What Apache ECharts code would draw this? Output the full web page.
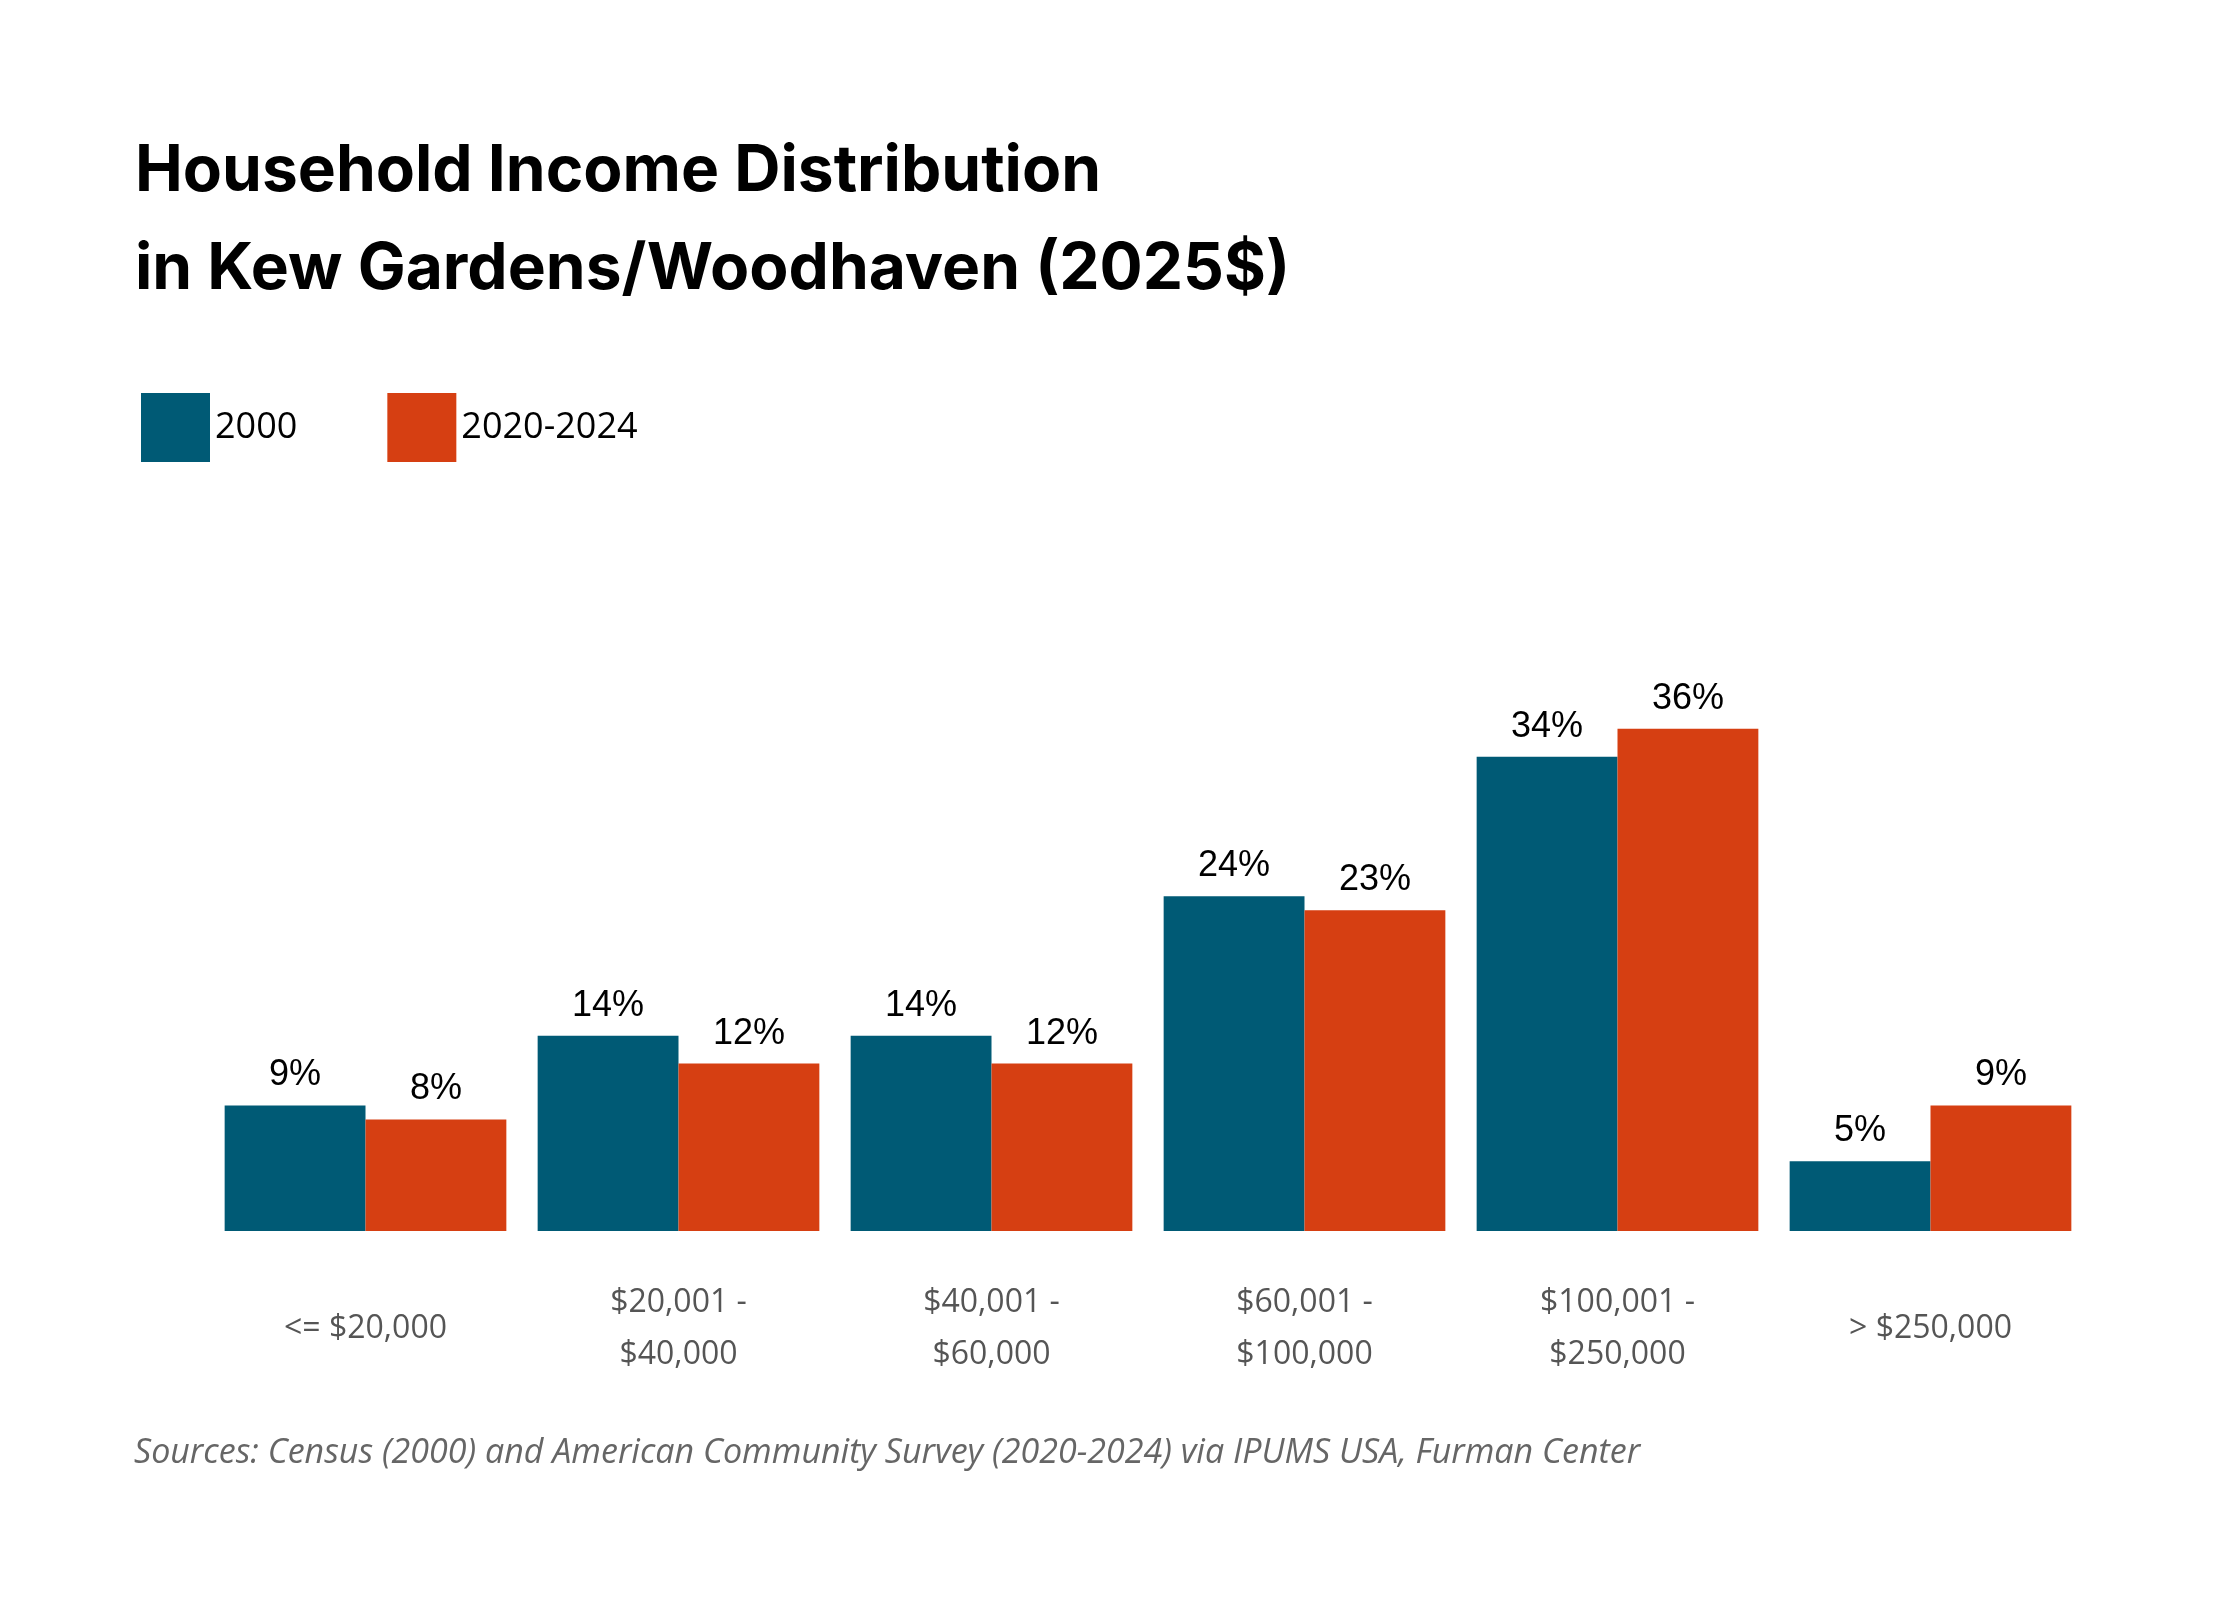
<!DOCTYPE html>
<html>
<head>
<meta charset="utf-8">
<script src="https://cdn.jsdelivr.net/npm/echarts@6/dist/echarts.min.js"></script>
<style>html,body{margin:0;padding:0;background:#fff}#main{width:2240px;height:1600px}</style>
</head>
<body>
<div id="main"></div>
<script>
// 数据
var categories = ['<= $20,000', '$20,001 -\n$40,000', '$40,001 -\n$60,000', '$60,001 -\n$100,000', '$100,001 -\n$250,000', '> $250,000'];
var seriesNames = ['2000', '2020-2024'];
var values2000 = [9, 14, 14, 24, 34, 5];
var values2024 = [8, 12, 12, 23, 36, 9];

var myChart = echarts.init(document.getElementById('main'));

var option = {
    backgroundColor: '#fff',
    title: {
        text: 'Household Income Distribution\nin Kew Gardens/Woodhaven (2025$)',
        left: 130,
        top: 118,
        textStyle: {
            fontFamily: 'Inter',
            fontWeight: 'bold',
            fontSize: 64,
            lineHeight: 98,
            color: '#000'
        }
    },
    legend: {
        left: 136,
        top: 388,
        itemWidth: 69,
        itemHeight: 69,
        itemGap: 90,
        icon: 'rect',
        textStyle: {fontFamily: 'Open Sans', fontSize: 36, color: '#000', padding: [10, 0, 0, 0]},
        data: seriesNames
    },
    graphic: [{
        type: 'text',
        left: 134,
        top: 1436,
        style: {
            text: 'Sources: Census (2000) and American Community Survey (2020-2024) via IPUMS USA, Furman Center',
            fontFamily: 'Open Sans',
            fontStyle: 'italic',
            fontSize: 34,
            fill: '#666'
        }
    }],
    grid: {left: 209, right: 153, top: 673, bottom: 369},
    xAxis: {
        type: 'category',
        data: categories,
        axisLine: {show: false},
        axisTick: {show: false},
        axisLabel: {
            margin: 98,
            fontFamily: 'Open Sans',
            fontSize: 32,
            lineHeight: 52,
            color: '#555',
            verticalAlign: 'middle'
        }
    },
    yAxis: {
        type: 'value',
        min: 0,
        max: 40,
        show: false,
        splitLine: {show: false}
    },
    series: [
        {
            name: seriesNames[0],
            type: 'bar',
            data: values2000,
            barGap: '0%',
            barCategoryGap: '10%',
            itemStyle: {color: '#005a75'},
            label: {show: true, position: 'top', formatter: '{c}%', fontFamily: 'Liberation Sans', fontSize: 36, color: '#000', distance: 12}
        },
        {
            name: seriesNames[1],
            type: 'bar',
            data: values2024,
            barGap: '0%',
            barCategoryGap: '10%',
            itemStyle: {color: '#d63f12'},
            label: {show: true, position: 'top', formatter: '{c}%', fontFamily: 'Liberation Sans', fontSize: 36, color: '#000', distance: 12}
        }
    ]
};
myChart.setOption(option);
</script>
</body>
</html>
